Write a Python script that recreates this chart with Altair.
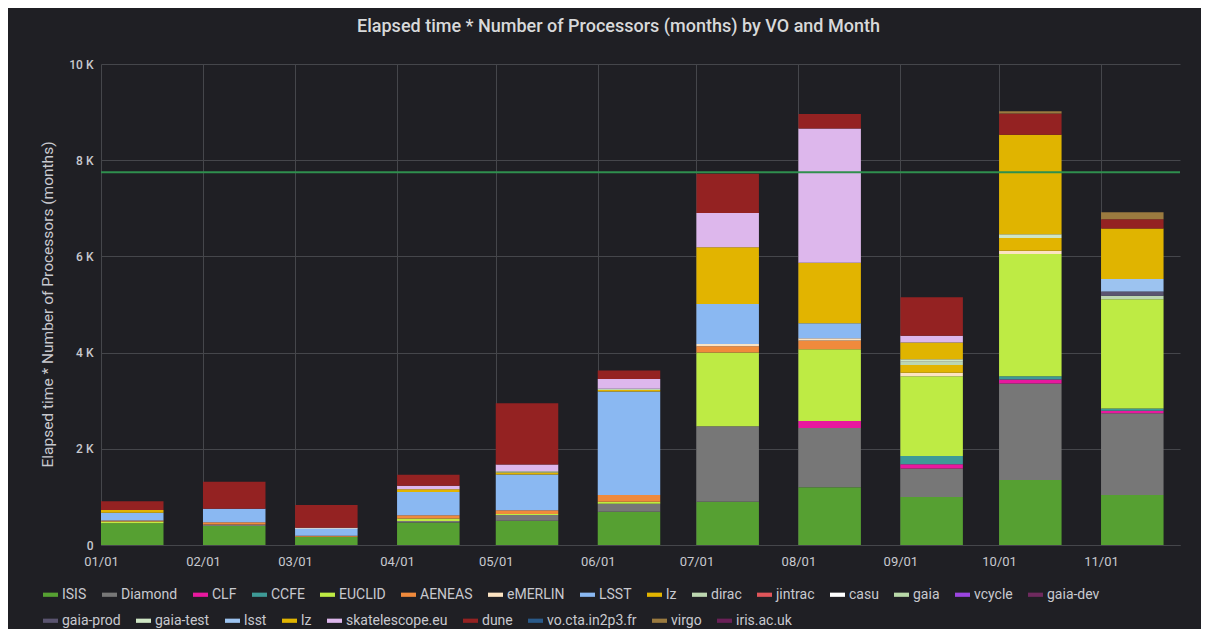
import altair as alt
import pandas as pd

# ---------------- data ----------------
months = ["2021-01-01", "2021-02-01", "2021-03-01", "2021-04-01", "2021-05-01",
          "2021-06-01", "2021-07-01", "2021-08-01", "2021-09-01", "2021-10-01",
          "2021-11-01"]

ISIS      = [450, 395, 170, 470, 505, 690, 900, 1200, 1000, 1350, 1040]
Diamond   = [0, 30, 0, 30, 120, 170, 1570, 1230, 590, 2010, 1700]
CLF       = [0, 0, 0, 0, 0, 0, 0, 150, 90, 80, 50]
CCFE      = [0, 0, 0, 0, 0, 0, 0, 0, 170, 70, 50]
EUCLID    = [40, 0, 0, 50, 20, 40, 1530, 1490, 1660, 2540, 2270]
AENEAS    = [20, 50, 20, 70, 80, 140, 130, 180, 0, 0, 0]
eMERLIN   = [0, 0, 0, 0, 0, 0, 50, 50, 70, 70, 0]
LSST      = [160, 280, 150, 480, 740, 2150, 830, 310, 0, 0, 0]
lz        = [60, 0, 0, 60, 40, 30, 1180, 1260, 160, 260, 0]
dirac     = [0, 0, 0, 0, 30, 30, 0, 0, 70, 0, 70]
jintrac   = [0, 0, 0, 0, 0, 0, 0, 0, 0, 0, 0]
casu      = [0, 0, 20, 0, 0, 0, 0, 0, 0, 0, 0]
gaia      = [0, 0, 0, 0, 0, 0, 0, 0, 0, 0, 0]
vcycle    = [0, 0, 0, 0, 0, 0, 0, 0, 0, 0, 0]
gaia_dev  = [0, 0, 0, 0, 0, 0, 0, 0, 0, 0, 0]
gaia_prod = [0, 0, 0, 0, 0, 0, 0, 0, 0, 0, 90]
gaia_test = [0, 0, 0, 0, 0, 0, 0, 0, 50, 80, 0]
lsst      = [0, 0, 0, 0, 0, 0, 0, 0, 0, 0, 260]
lz_2      = [0, 0, 0, 0, 0, 0, 0, 0, 350, 2070, 1050]
skatelescope = [0, 0, 0, 70, 140, 200, 710, 2790, 140, 0, 0]
dune      = [180, 560, 470, 230, 1270, 180, 820, 300, 800, 440, 190]
vo_cta    = [0, 0, 0, 0, 0, 0, 0, 0, 0, 0, 0]
virgo     = [0, 0, 0, 0, 0, 0, 0, 0, 0, 50, 150]
iris      = [0, 0, 0, 0, 0, 0, 0, 0, 0, 0, 0]

series_names = ["ISIS", "Diamond", "CLF", "CCFE", "EUCLID", "AENEAS", "eMERLIN",
                "LSST", "lz", "dirac", "jintrac", "casu", "gaia", "vcycle",
                "gaia-dev", "gaia-prod", "gaia-test", "lsst", "lz ",
                "skatelescope.eu", "dune", "vo.cta.in2p3.fr", "virgo", "iris.ac.uk"]
series_values = [ISIS, Diamond, CLF, CCFE, EUCLID, AENEAS, eMERLIN, LSST, lz,
                 dirac, jintrac, casu, gaia, vcycle, gaia_dev, gaia_prod,
                 gaia_test, lsst, lz_2, skatelescope, dune, vo_cta, virgo, iris]
series_colors = ["#56a032", "#777777", "#e8189e", "#3e9a96", "#beeb44", "#f08a3c",
                 "#fce3c2", "#8ab8f2", "#e2b400", "#bcd6b0", "#e0555a", "#ffffff",
                 "#b8d8a8", "#9b45e0", "#6e2a5e", "#5a5470", "#cfe6c5", "#9cc3f0",
                 "#e0b400", "#ddb7ec", "#942222", "#2a5a8a", "#9a7a3f", "#6a2058"]

threshold = [7750]
bar_days = 19
legend_row1 = 15  # number of legend entries in the first legend row

# stack the series per month (bottom to top in series order)
rows = []
for mi, m in enumerate(months):
    base = 0
    end = (pd.Timestamp(m) + pd.Timedelta(days=bar_days)).strftime("%Y-%m-%d")
    for i, (name, vals) in enumerate(zip(series_names, series_values)):
        v = vals[mi]
        rows.append({"start": m, "end": end, "series": name, "idx": i,
                     "value": v, "y0": base, "y1": base + v,
                     "row": 1 if i < legend_row1 else 2})
        base += v
df = pd.DataFrame(rows)
thr_df = pd.DataFrame({"y": threshold})

names1, cols1 = series_names[:legend_row1], series_colors[:legend_row1]
names2, cols2 = series_names[legend_row1:], series_colors[legend_row1:]

# ---------------- styling ----------------
BG = "#1f1f24"
GRID = "#45464b"
TXT = "#c8c9cf"
FONT = "Roboto"

tick_dates = [alt.DateTime(year=2021, month=int(m[5:7]), date=1, utc=True) for m in months]

x_scale = alt.Scale(type="utc", domain=[alt.DateTime(year=2021, month=1, date=1, utc=True),
                                        alt.DateTime(year=2021, month=11, date=25, utc=True)])
y_scale = alt.Scale(domain=[0, 10000], nice=False)

x_enc = alt.X("start:T", scale=x_scale, title=None,
              axis=alt.Axis(values=tick_dates, format="%m/%d", grid=True, gridColor=GRID,
                            ticks=False, domain=True, domainColor=GRID, labelPadding=10,
                            labelFontSize=13, labelColor=TXT, labelFont=FONT,
                            labelAlign="center", labelFlush=False))
y_enc = alt.Y("y0:Q", scale=y_scale,
              title="Elapsed time * Number of Processors (months)",
              axis=alt.Axis(values=[0, 2000, 4000, 6000, 8000, 10000],
                            labelExpr="datum.value == 0 ? '0' : (datum.value / 1000) + ' K'",
                            grid=True, gridColor=GRID, ticks=False, domain=False,
                            labelPadding=8, labelFontSize=12, labelFontWeight=500,
                            labelColor=TXT, labelFont=FONT,
                            titleFontSize=15.5, titleFontWeight="normal", titleColor=TXT,
                            titleFont=FONT, titleX=-54, titleY=240, titleAngle=-90,
                            titleAlign="center", titleBaseline="middle"))


def legend(y):
    return alt.Legend(title=None, orient="none", legendX=-58, legendY=y,
                      direction="horizontal", symbolType="M-1,-0.28H1V0.28H-1Z",
                      symbolSize=225, symbolStrokeWidth=0, symbolOpacity=1,
                      labelFontSize=14, labelColor=TXT, labelFont=FONT,
                      labelOffset=4, columnPadding=15, padding=0, symbolLimit=40,
                      labelLimit=300)


bars1 = alt.Chart(df).transform_filter("datum.row == 1 && datum.value > 0").mark_bar().encode(
    x=x_enc, x2="end:T", y=y_enc, y2="y1:Q",
    color=alt.Color("series:N", scale=alt.Scale(domain=names1, range=cols1),
                    legend=legend(523)),
)
bars2 = alt.Chart(df).transform_filter("datum.row == 2 && datum.value > 0").mark_bar().encode(
    x=x_enc, x2="end:T", y=y_enc, y2="y1:Q",
    fill=alt.Fill("series:N", scale=alt.Scale(domain=names2, range=cols2),
                  legend=legend(549)),
)

rule = alt.Chart(thr_df).mark_rule(color="#2f8f4e", strokeWidth=2).encode(
    y=alt.Y("y:Q", scale=y_scale)
)

chart = alt.layer(bars1, bars2, rule).resolve_scale(
    color="independent", fill="independent"
).properties(
    width=1079, height=481,
    autosize=alt.AutoSizeParams(type="none"),
    padding={"left": 93, "top": 56, "right": 21, "bottom": 84},
    background=BG,
    title=alt.TitleParams("Elapsed time * Number of Processors (months) by VO and Month",
                          fontSize=18, fontWeight=500, color="#d8d9da", font=FONT,
                          anchor="middle", dx=-22, offset=22),
).configure_view(stroke=None)

chart.save("out.html", embed_options={"renderer": "svg", "actions": False})
